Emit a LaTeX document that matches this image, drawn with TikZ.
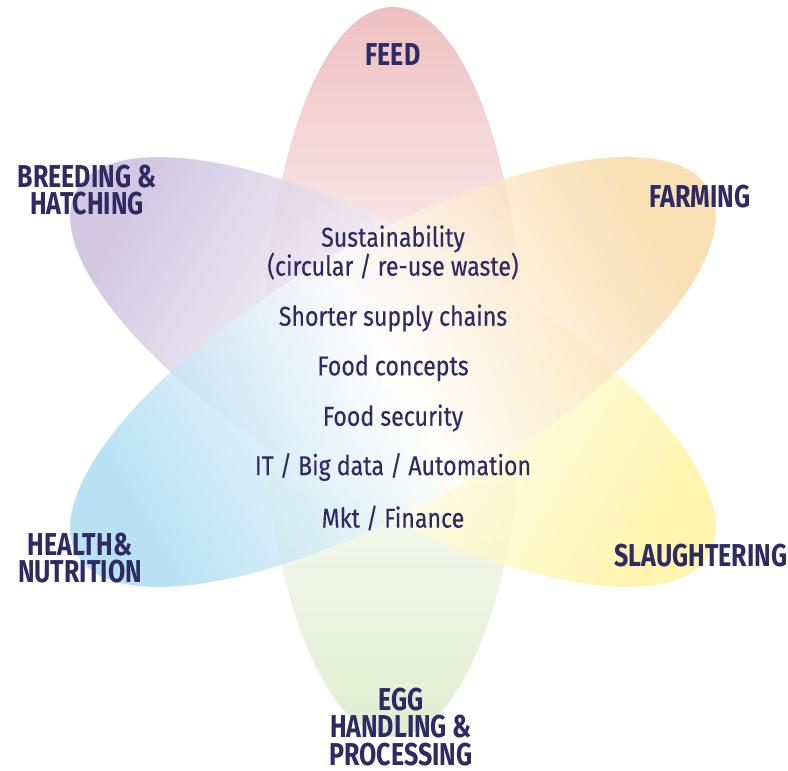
\documentclass[tikz,border=0pt]{standalone}
\usepackage{fontspec}
\setmainfont[FakeStretch=0.85, FakeBold=0.3]{Fira Sans}
\newfontfamily\lblfont[FakeStretch=0.79]{Fira Sans}
\definecolor{ink}{HTML}{2E2A63}
\definecolor{feedc}{HTML}{EBAFB0}
\definecolor{eggc}{HTML}{D9E9C4}
\definecolor{breedc}{HTML}{C7BBDA}
\definecolor{slaughc}{HTML}{FFF39A}
\definecolor{farmc}{HTML}{F8D8A2}
\definecolor{healthc}{HTML}{A6D9F0}
\tikzset{p/.style = {fill opacity=0.8},
    l/.style = {text=ink, align=center, inner sep=0pt, font=\lblfont\bfseries\fontsize{18}{15.5}\selectfont},
    t/.style = {text=ink, align=center, inner sep=0pt, font=\fontsize{15.5}{16.5}\selectfont}}

\begin{document}
\begin{tikzpicture}
        \useasboundingbox (0,0) rectangle (15.76,-15.42);
        \coordinate (o) at (7.86,-7.44);

        % petals
        \shade[p, top color=feedc, bottom color=eggc, middle color=white] (o) ellipse [x radius=2.62, y radius=7.3];
        \shade[p, rotate around={-30:(o)}, top color=breedc, bottom color=slaughc, middle color=white, shading angle=60] (o) ellipse [x radius=7.3, y radius=2.62];
        \shade[p, rotate around={30:(o)}, top color=farmc, bottom color=healthc, middle color=white, shading angle=-60] (o) ellipse [x radius=7.3, y radius=2.62];

        % labels
        \node[l] (feed) at (7.86,-1.1) {FEED};
        \node[l] (breed) at (1.74,-3.8) {BREEDING \&\\HATCHING};
        \node[l] (farm) at (14.0,-3.94) {FARMING};
        \node[l] (health) at (1.6,-11.16) {HEALTH\&\\NUTRITION};
        \node[l] (slaugh) at (14.02,-11.12) {SLAUGHTERING};
        \node[l] (egg) at (8.02,-14.54) {EGG\\HANDLING \&\\PROCESSING};

        % topics
        \node[t] (sust) at (7.86,-5.05) {Sustainability\\(circular / re-use waste)};
        \foreach \n/\y/\s in {chain/6.36/{Shorter supply chains}, conc/7.36/{Food concepts}, secu/8.36/{Food security}, it/9.34/{IT / Big data / Automation}, mkt/10.36/{Mkt / Finance}}
            \node[t] (\n) at (7.86,-\y) {\s};
    \end{tikzpicture}
\end{document}
